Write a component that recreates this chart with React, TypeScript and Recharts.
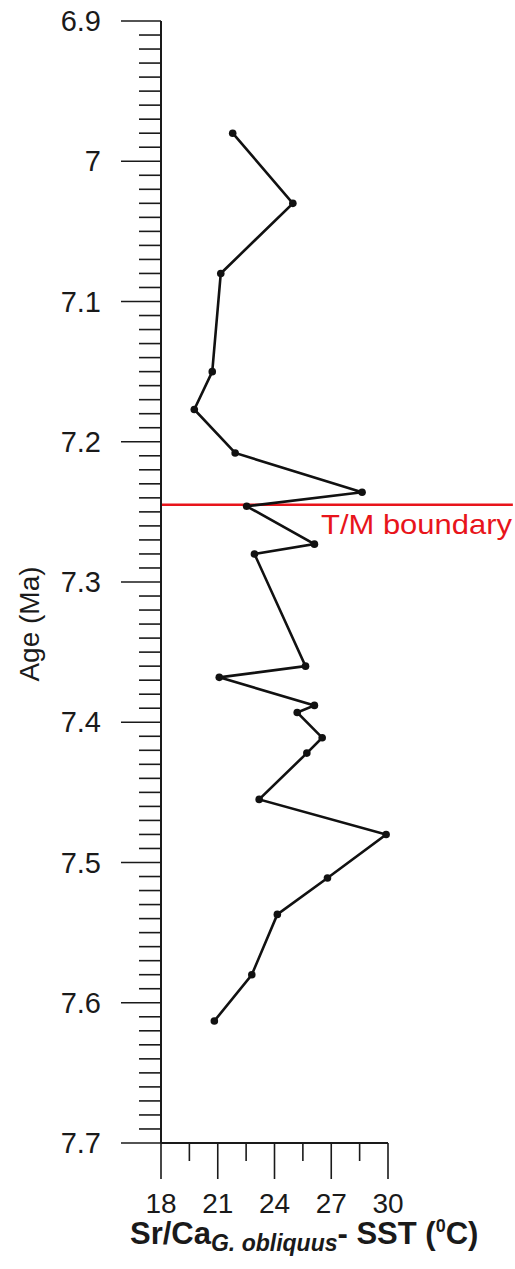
import React from 'react';
import { ScatterChart, Scatter, XAxis, YAxis, ReferenceLine } from 'recharts';

// Sr/Ca G. obliquus SST (°C) vs Age (Ma)
const ageValues = [6.98, 7.03, 7.08, 7.15, 7.177, 7.208, 7.236, 7.246, 7.273, 7.28, 7.36, 7.368, 7.388, 7.393, 7.411, 7.422, 7.455, 7.48, 7.511, 7.537, 7.58, 7.613];
const sstValues = [21.79, 24.97, 21.16, 20.71, 19.76, 21.92, 28.63, 22.53, 26.11, 22.94, 25.64, 21.08, 26.11, 25.2, 26.52, 25.71, 23.19, 29.9, 26.8, 24.15, 22.8, 20.82];

const boundaryAge = 7.245;
const boundaryLabel = 'T/M boundary';

const xMajorTicks = [18, 21, 24, 27, 30];
const xMinorTicks = [19.5, 22.5, 25.5, 28.5];
const yMajorTicks = [6.9, 7, 7.1, 7.2, 7.3, 7.4, 7.5, 7.6, 7.7];

const yAllTicks: number[] = [];
for (let i = 0; i <= 80; i++) yAllTicks.push(Math.round((6.9 + i * 0.01) * 1000) / 1000);
const xAllTicks = [...xMajorTicks, ...xMinorTicks].sort((a, b) => a - b);

const data = ageValues.map((age, i) => ({ age, sst: sstValues[i] }));

const FONT = "Arial, 'Liberation Sans', sans-serif";
const INK = '#1a1a1a';
const RED = '#e8141b';

const YTick = (props: any) => {
  const { x, y, payload } = props;
  const v = payload.value as number;
  const major = yMajorTicks.some((m) => Math.abs(m - v) < 1e-6);
  return (
    <g>
      <line x1={x - (major ? 40 : 22)} x2={x} y1={y} y2={y} stroke={INK} strokeWidth={1.6} />
      {major && (
        <text x={x - 60} y={y} dy={10} textAnchor="end" fontSize={29} fontFamily={FONT} fill={INK}>
          {String(Number(v.toFixed(1)))}
        </text>
      )}
    </g>
  );
};

const XTick = (props: any) => {
  const { x, y, payload } = props;
  const v = payload.value as number;
  const major = xMajorTicks.includes(v);
  return (
    <g>
      <line x1={x} x2={x} y1={y} y2={y + (major ? 36 : 18)} stroke={INK} strokeWidth={1.6} />
      {major && (
        <text x={x} y={y + 70} textAnchor="middle" fontSize={28} fontFamily={FONT} fill={INK}>
          {String(v)}
        </text>
      )}
    </g>
  );
};

const Dot = (props: any) => <circle cx={props.cx} cy={props.cy} r={3.8} fill="#111" />;

export default function App() {
  return (
    <div style={{ position: 'relative', width: 515, height: 1269, background: '#fff' }}>
      <style>{'body{margin:0;}'}</style>
      <ScatterChart width={515} height={1269} margin={{ top: 21, right: 127, bottom: 66, left: 61 }}>
        <XAxis
          type="number"
          dataKey="sst"
          domain={[18, 30]}
          ticks={xAllTicks}
          interval={0}
          tickSize={0}
          tickMargin={0}
          tickLine={false}
          axisLine={{ stroke: INK, strokeWidth: 2 }}
          tick={<XTick />}
          height={60}
        />
        <YAxis
          type="number"
          dataKey="age"
          domain={[6.9, 7.7]}
          reversed
          ticks={yAllTicks}
          interval={0}
          tickSize={0}
          tickMargin={0}
          tickLine={false}
          axisLine={{ stroke: INK, strokeWidth: 2 }}
          tick={<YTick />}
          width={100}
        />
        <ReferenceLine
          segment={[{ x: 18, y: boundaryAge }, { x: 36.6, y: boundaryAge }]}
          stroke={RED}
          strokeWidth={2.5}
          ifOverflow="visible"
        />
        <Scatter
          data={data}
          isAnimationActive={false}
          line={{ stroke: '#111', strokeWidth: 2.6 }}
          lineJointType="linear"
          shape={<Dot />}
        />
      </ScatterChart>
      <svg width={515} height={1269} style={{ position: 'absolute', left: 0, top: 0, pointerEvents: 'none' }}>
        <text transform="translate(39,624) rotate(-90)" textAnchor="middle" fontSize={28} fontFamily={FONT} fill={INK}>
          Age (Ma)
        </text>
        <text x={321} y={534} fontSize={28} fontFamily={FONT} fill={RED} textLength={191} lengthAdjust="spacingAndGlyphs">
          {boundaryLabel}
        </text>
        <text x={130} y={1244} fontFamily={FONT} fill={INK} fontWeight="bold" fontSize={31}>
          <tspan>Sr/Ca</tspan>
          <tspan fontSize={23} fontStyle="italic" dy={7}>G. obliquus</tspan>
          <tspan dy={-7}>- SST (</tspan>
          <tspan fontSize={18} dy={-12}>0</tspan>
          <tspan dy={12}>C)</tspan>
        </text>
      </svg>
    </div>
  );
}
